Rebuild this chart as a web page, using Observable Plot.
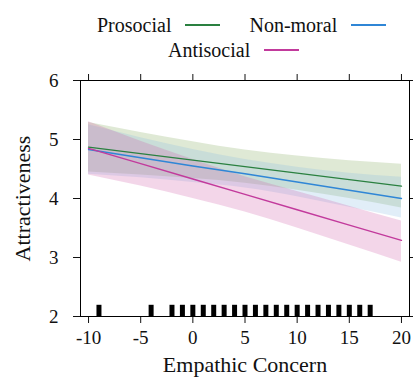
<!DOCTYPE html>
<html>
<head>
<meta charset="utf-8">
<script src="https://cdn.jsdelivr.net/npm/d3@7"></script>
<script src="https://cdn.jsdelivr.net/npm/@observablehq/plot@0.6"></script>
<style>
  body { margin: 0; background: #fff; font-family: "Liberation Serif", "DejaVu Serif", "Noto Serif", FreeSerif, "Nimbus Roman", serif; }
  #legend { position: relative; width: 413px; height: 62px; font-size: 20px; line-height: 20px; color: #111; }
  .row { position: absolute; display: flex; align-items: center; white-space: nowrap; }
  .sw { display: inline-block; width: 35px; height: 0; border-top: 2px solid; margin-left: 14px; }
  .gap { display: inline-block; width: 29px; }
</style>
</head>
<body>
<div id="legend"></div>
<div id="chart"></div>
<script>
// ---- data ----
const seriesNames = ["Prosocial", "Non-moral", "Antisocial"];
const seriesColors = ["#2a8040", "#2f86d6", "#c23a9c"];
const bandColors = ["#7fa757", "#87bbe3", "#cf5ba7"];

const xs = [-10, -5, 0, 5, 10, 15, 20];

const proFit = [4.87, 4.76, 4.65, 4.54, 4.43, 4.32, 4.21];
const proLo  = [4.45, 4.40, 4.34, 4.26, 4.14, 4.00, 3.84];
const proHi  = [5.29, 5.12, 4.96, 4.82, 4.72, 4.64, 4.58];

const nonFit = [4.83, 4.69, 4.55, 4.42, 4.28, 4.14, 4.00];
const nonLo  = [4.41, 4.35, 4.27, 4.18, 4.03, 3.85, 3.67];
const nonHi  = [5.25, 5.03, 4.83, 4.66, 4.53, 4.43, 4.36];

const antiFit = [4.85, 4.59, 4.33, 4.07, 3.81, 3.55, 3.29];
const antiLo  = [4.40, 4.21, 4.00, 3.77, 3.50, 3.21, 2.92];
const antiHi  = [5.30, 4.97, 4.66, 4.37, 4.12, 3.87, 3.62];

const rugX = [-9, -4, -2, -1, 0, 1, 2, 3, 4, 5, 6, 7, 8, 9, 10, 11, 12, 13, 14, 15, 16, 17];

const xTicks = [-10, -5, 0, 5, 10, 15, 20];
const yTicks = [2, 3, 4, 5, 6];
const xTitle = "Empathic Concern";
const yTitle = "Attractiveness";

// ---- build table ----
const fits = [proFit, nonFit, antiFit];
const los = [proLo, nonLo, antiLo];
const his = [proHi, nonHi, antiHi];
const rows = [];
seriesNames.forEach((s, i) => xs.forEach((x, j) => rows.push({series: s, x, fit: fits[i][j], lo: los[i][j], hi: his[i][j]})));

// ---- legend ----
const legend = document.getElementById("legend");
function item(name, color, gap) {
  return `<span>${name}</span><span class="sw" style="border-color:${color}"></span>` + (gap ? `<span class="gap"></span>` : "");
}
legend.innerHTML =
  `<div class="row" style="left:97px;top:15px">${item(seriesNames[0], seriesColors[0], true)}${item(seriesNames[1], seriesColors[1], false)}</div>` +
  `<div class="row" style="left:168px;top:40px">${item(seriesNames[2], seriesColors[2], false)}</div>`;

// ---- chart ----
const fmt = d => String(d);
const marks = [];
seriesNames.forEach((s, i) => {
  marks.push(Plot.areaY(rows.filter(d => d.series === s), {x: "x", y1: "lo", y2: "hi", fill: bandColors[i], fillOpacity: 0.25, curve: "natural"}));
});
seriesNames.forEach((s, i) => {
  marks.push(Plot.line(rows.filter(d => d.series === s), {x: "x", y: "fit", stroke: seriesColors[i], strokeWidth: 1.4}));
});
marks.push(Plot.ruleX(rugX, {x: d => d, y1: 2, y2: 2.19, stroke: "black", strokeWidth: 5}));
marks.push(Plot.axisX({anchor: "bottom", ticks: xTicks, tickSize: 7, tickPadding: 7, fontSize: 19, tickFormat: fmt, label: null}));
marks.push(Plot.axisX({anchor: "bottom", ticks: [], fontSize: 22, label: xTitle, labelAnchor: "center", labelArrow: "none", labelOffset: 55}));
marks.push(Plot.axisX({anchor: "top", ticks: xTicks, tickSize: 7, tickFormat: () => "", label: null}));
marks.push(Plot.axisY({anchor: "left", ticks: yTicks, tickSize: 7, tickPadding: 15, fontSize: 19, tickFormat: fmt, label: null}));
marks.push(Plot.axisY({anchor: "left", ticks: [], fontSize: 22, label: yTitle, labelAnchor: "center", labelArrow: "none", labelOffset: 66}));
marks.push(Plot.axisY({anchor: "right", ticks: yTicks, tickSize: 7, tickFormat: () => "", label: null}));
marks.push(Plot.frame({stroke: "black", strokeWidth: 1}));

const chart = Plot.plot({
  width: 413,
  height: 324,
  marginTop: 18,
  marginBottom: 70,
  marginLeft: 80,
  marginRight: 4,
  style: {fontFamily: "'Liberation Serif', 'DejaVu Serif', serif", fontSize: "19px", color: "#111", background: "white"},
  x: {domain: [-10.77, 20.77]},
  y: {domain: [2, 6]},
  marks
});
document.getElementById("chart").appendChild(chart);
</script>
</body>
</html>
